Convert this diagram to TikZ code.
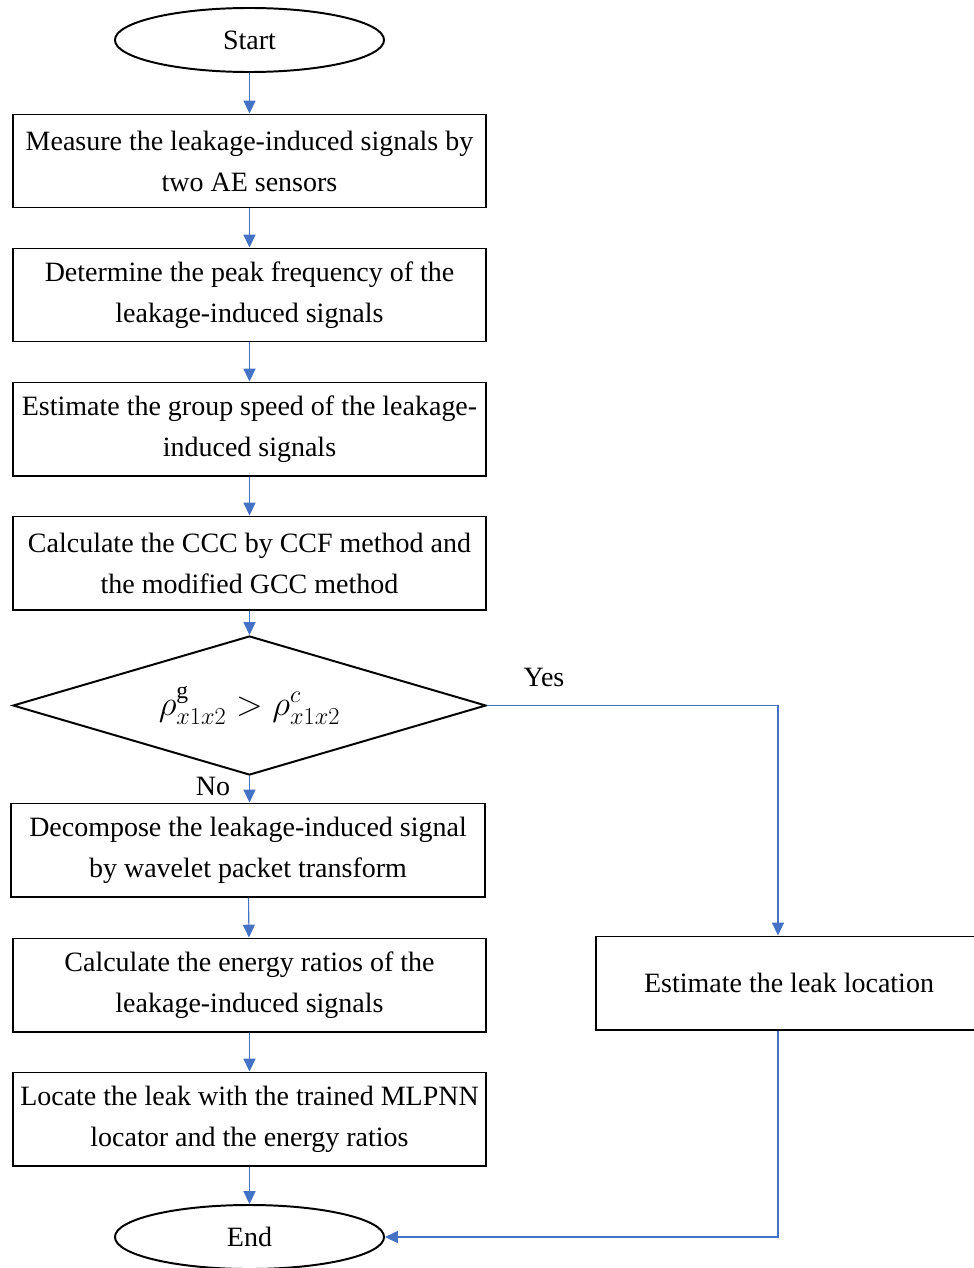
\documentclass[tikz,border=0pt]{standalone}
\usepackage{fontspec}
\setmainfont{Liberation Serif}
\usepackage{amsmath}
\definecolor{flowblue}{HTML}{4472C4}
\usetikzlibrary{arrows.meta,shapes.geometric}

\begin{document}
\begin{tikzpicture}[x=0.025cm, y=-0.025cm,
  every node/.style={font=\fontsize{19.9pt}{29.2pt}\selectfont},
  stepbox/.style={draw, line width=1.4pt, minimum width=11.825cm,
    minimum height=2.325cm, inner sep=0pt, align=center},
  terminal/.style={draw, ellipse, line width=1.4pt, minimum width=6.725cm,
    minimum height=1.6cm, inner sep=0pt},
  decision/.style={draw, diamond, aspect=3.4, line width=1.4pt,
    minimum width=11.825cm, minimum height=3.475cm, inner sep=0pt,
    font=\fontsize{24pt}{29.2pt}\selectfont},
  flow/.style={flowblue, line width=0.8pt, -{Triangle[length=3.2mm,width=3mm]}}]

\useasboundingbox (0,0) rectangle (973,1268);

% === LEFT: main column ===
\node[terminal] (start) at (249.5,40) {Start};
\node[stepbox] (measure) at (249.5,161)
  {Measure the leakage-induced signals by\\two AE sensors};
\node[stepbox] (peak) at (249.5,295)
  {Determine the peak frequency of the\\leakage-induced signals};
\node[stepbox] (speed) at (249.5,429)
  {Estimate the group speed of the leakage-\\induced signals};
\node[stepbox] (ccc) at (249.5,563)
  {Calculate the CCC by CCF method and\\the modified GCC method};
\node[decision] (check) at (249.5,705.5)
  {$\rho^{\mathrm{g}}_{x1x2} > \rho^{c}_{x1x2}$};
\node[stepbox] (decomp) at (248,850)
  {Decompose the leakage-induced signal\\by wavelet packet transform};
\node[stepbox] (energy) at (249.5,985)
  {Calculate the energy ratios of the\\leakage-induced signals};
\node[stepbox] (locate) at (249.5,1119)
  {Locate the leak with the trained MLPNN\\locator and the energy ratios};
\node[terminal] (finish) at (249.5,1237) {End};

% === RIGHT: direct estimate ===
\node[stepbox, minimum width=9.65cm] (estimate) at (789,983)
  {Estimate the leak location};
\coordinate (yesturn) at (778,705.5);

% === connectors ===
\draw[flow] (start) -- (measure);
\draw[flow] (measure) -- (peak);
\draw[flow] (peak) -- (speed);
\draw[flow] (speed) -- (ccc);
\draw[flow] (ccc) -- (check);
\draw[flow] (check.south) -- (check.south |- decomp.north);
\node[black] (no) at (213,786) {No};
\draw[flow] (decomp) -- (energy);
\draw[flow] (energy) -- (locate);
\draw[flow] (locate) -- (finish);

\draw[flow] (check.east) -- (yesturn) -- (yesturn |- estimate.north);
\node (yes) at (544,677) {Yes};
\draw[flow] (yesturn |- estimate.south) |- (finish.east);

\end{tikzpicture}
\end{document}
